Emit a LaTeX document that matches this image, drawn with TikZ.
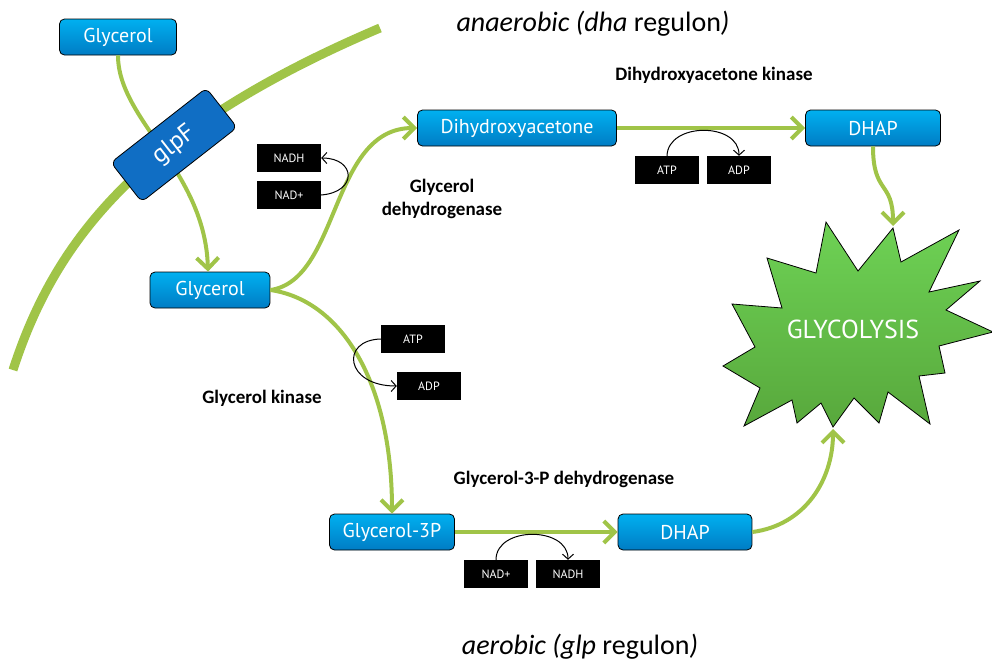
\documentclass[tikz,border=0pt]{standalone}
\usepackage{fontspec}
\setmainfont{Carlito}
\newfontfamily\boxfont{PT Sans}
\usetikzlibrary{arrows.meta,calc,backgrounds}
\definecolor{pathgreen}{RGB}{160,196,72}
\definecolor{moltop}{RGB}{0,176,240}
\definecolor{molbot}{RGB}{0,124,196}
\definecolor{chanblue}{RGB}{16,110,196}
\definecolor{burstTop}{RGB}{110,210,85}
\definecolor{burstBot}{RGB}{88,168,60}
\tikzset{
  x=1pt,y=-1pt,
  mol/.style={draw=black,line width=0.8pt,rounded corners=5pt,
    top color=moltop,bottom color=molbot,text=white,inner sep=0pt,
    minimum height=36pt,font=\boxfont\fontsize{20}{22}\selectfont},
  chan/.style={draw=black,line width=0.8pt,rounded corners=6pt,fill=chanblue,
    text=white,inner sep=0pt,minimum width=121pt,minimum height=50pt,
    font=\boxfont\fontsize{25}{27}\selectfont},
  cof/.style={fill=black,text=white,inner sep=0pt,minimum width=64pt,
    minimum height=28pt,font=\boxfont\fontsize{12}{14}\selectfont},
  enz/.style={font=\bfseries\fontsize{19}{23}\selectfont,align=center,inner sep=0pt},
  regul/.style={font=\fontsize{28}{32}\selectfont,inner sep=0pt},
  flow/.style={draw=pathgreen,line width=4pt,
    -{Straight Barb[length=11pt,width=22pt,line width=4pt]}},
  cofarc/.style={draw=black,line width=1pt,
    -{Straight Barb[length=5pt,width=11pt,line width=1pt]}},
  membrane/.style={draw=pathgreen,line width=9pt},
  burst/.style={draw=black,line width=0.8pt,top color=burstTop,bottom color=burstBot},
}
\begin{document}
\begin{tikzpicture}
  \useasboundingbox (0,0) rectangle (992,662);

  % membrane and channel
  \draw[membrane] (13,370) .. controls (55,240) and (140,130) .. (380,28);

  % molecules
  \node[mol,minimum width=117pt] (glyout) at (118,37) {Glycerol};
  \node[mol,minimum width=120pt] (glyin) at (210,290) {Glycerol};
  \node[mol,minimum width=199pt] (dha) at (517,128) {Dihydroxyacetone};
  \node[mol,minimum width=135pt] (dhapA) at (873,128) {DHAP};
  \node[mol,minimum width=125pt] (g3p) at (392,532) {Glycerol-3P};
  \node[mol,minimum width=134pt] (dhapB) at (685,532) {DHAP};

  % glycolysis burst
  \draw[burst] (826,222) -- (858,271) -- (893,228) -- (901,262) -- (959,230)
    -- (929,292) -- (980,281) -- (946,310) -- (993,332) -- (939,346)
    -- (945,373) -- (919,376) -- (930,424) -- (888,392) -- (879,423)
    -- (854,398) -- (833,427) -- (821,403) -- (797,423) -- (792,400)
    -- (744,426) -- (760,388) -- (723,366) -- (755,347) -- (732,304)
    -- (782,308) -- (767,258) -- (816,273) -- cycle;
  \node[text=white,font=\boxfont\fontsize{26}{28}\selectfont] (glyc) at (853,329) {GLYCOLYSIS};
  \coordinate (burstN) at (893,226);
  \coordinate (burstS) at (833,429);

  % cofactors
  \node[cof] (nadhA) at (289,158) {NADH};
  \node[cof] (nadA) at (289,195) {NAD+};
  \node[cof] (atpA) at (667,170) {ATP};
  \node[cof] (adpA) at (739,170) {ADP};
  \node[cof] (atpB) at (413,339) {ATP};
  \node[cof] (adpB) at (429,386) {ADP};
  \node[cof] (nadB) at (496,574) {NAD+};
  \node[cof] (nadhB) at (568,574) {NADH};

  % enzymes and regulons
  \node[enz] (dhak) at (714,75) {Dihydroxyacetone kinase};
  \node[enz] (gldA) at (442,199) {Glycerol\\dehydrogenase};
  \node[enz] (glpK) at (262,398) {Glycerol kinase};
  \node[enz] (glpD) at (564,479) {Glycerol-3-P dehydrogenase};
  \node[regul] (anaer) at (593,24) {\textit{anaerobic (dha} regulon\textit{)}};
  \node[regul] (aer) at (580,647) {\textit{aerobic (glp} regulon\textit{)}};

  % green pathways
  \draw[flow] (glyout.south) .. controls (118,120) and (205,170) .. (glyin.north -| 208,0);
  \node[chan,rotate=38] (glpF) at (174,145) {glpF};
  \draw[flow] (glyin.east) .. controls (340,280) and (330,128) .. (dha.west);
  \draw[flow] (glyin.east) .. controls (340,300) and (392,380) .. (g3p.north);
  \draw[flow] (dha.east) -- (dhapA.west);
  \draw[flow] (g3p.east) -- (dhapB.west);
  \draw[flow] (dhapA.south) .. controls (873,195) and (893,180) .. (burstN);
  \draw[flow] (dhapB.east) .. controls (805,525) and (833,480) .. (burstS);

  % cofactor arcs
  \draw[cofarc] (nadA.east) .. controls (358,192) and (356,158) .. (nadhA.east);
  \draw[cofarc] (atpA.north) .. controls (668,122) and (739,122) .. (adpA.north);
  \draw[cofarc] (atpB.west) .. controls (340,340) and (345,386) .. (adpB.west);
  \draw[cofarc] (nadB.north) .. controls (496,526) and (568,526) .. (nadhB.north);
\end{tikzpicture}
\end{document}
